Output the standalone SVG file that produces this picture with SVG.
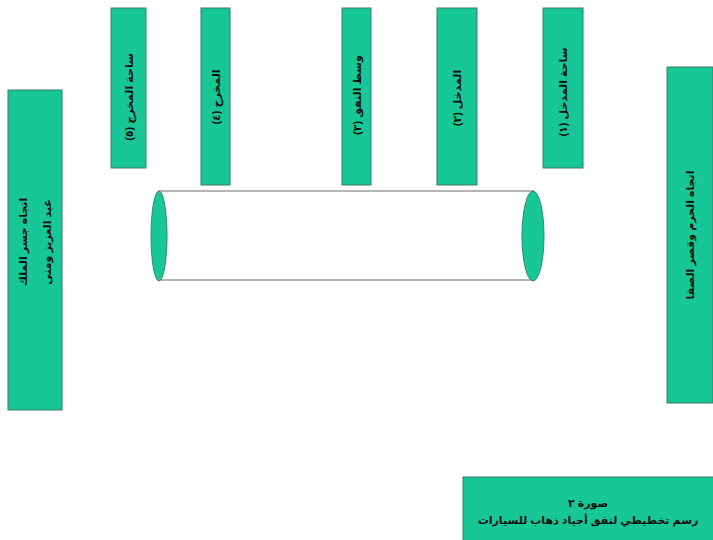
<svg xmlns="http://www.w3.org/2000/svg" width="713" height="540" viewBox="0 0 713 540">
<style>
.box{fill:#17c795;stroke:#3c7a68;stroke-width:1}
.t{font-family:"Liberation Sans","DejaVu Sans",sans-serif;font-size:11px;font-weight:bold;fill:#111;text-anchor:middle;dominant-baseline:central}
.tube{fill:#fff;stroke:#b5b5b5;stroke-width:2}
.cap{fill:#17c795;stroke:#2f8a6e;stroke-width:1}
</style>
<rect width="713" height="540" fill="#fff"/>
<g id="tunnel">
<rect class="tube" x="159" y="191" width="374" height="89"/>
<ellipse class="cap" cx="159" cy="236" rx="8" ry="45"/>
<ellipse class="cap" cx="533" cy="236" rx="11" ry="45"/>
</g>
<g id="exit-square">
<rect class="box" x="111" y="8" width="35" height="160"/>
<text class="t" transform="translate(128.5,97) rotate(-90)">ساحة المخرج (٥)</text>
</g>
<g id="exit">
<rect class="box" x="201" y="8" width="29" height="177"/>
<text class="t" transform="translate(215.5,97) rotate(-90)">المخرج (٤)</text>
</g>
<g id="middle">
<rect class="box" x="342" y="8" width="29" height="177"/>
<text class="t" transform="translate(356.5,95) rotate(-90)">وسط النفق (٣)</text>
</g>
<g id="entrance">
<rect class="box" x="437" y="8" width="40" height="177"/>
<text class="t" transform="translate(457,98) rotate(-90)">المدخل (٢)</text>
</g>
<g id="entrance-square">
<rect class="box" x="543" y="8" width="40" height="160"/>
<text class="t" transform="translate(563,92) rotate(-90)">ساحة المدخل (١)</text>
</g>
<g id="left-dir">
<rect class="box" x="8" y="90" width="54" height="320"/>
<text class="t" transform="translate(35,242) rotate(-90)"><tspan x="0" dy="-12">اتجاه جسر الملك</tspan><tspan x="0" dy="24">عبد العزيز ومنى</tspan></text>
</g>
<g id="right-dir">
<rect class="box" x="667" y="67" width="46" height="336"/>
<text class="t" transform="translate(690,235) rotate(-90)">اتجاه الحرم وقصر الصفا</text>
</g>
<g id="caption">
<rect class="box" x="463" y="477" width="251" height="64"/>
<text class="t" x="588" y="503">صورة ٢</text>
<text class="t" x="588" y="520">رسم تخطيطي لنفق أجياد ذهاب للسيارات</text>
</g>
</svg>
